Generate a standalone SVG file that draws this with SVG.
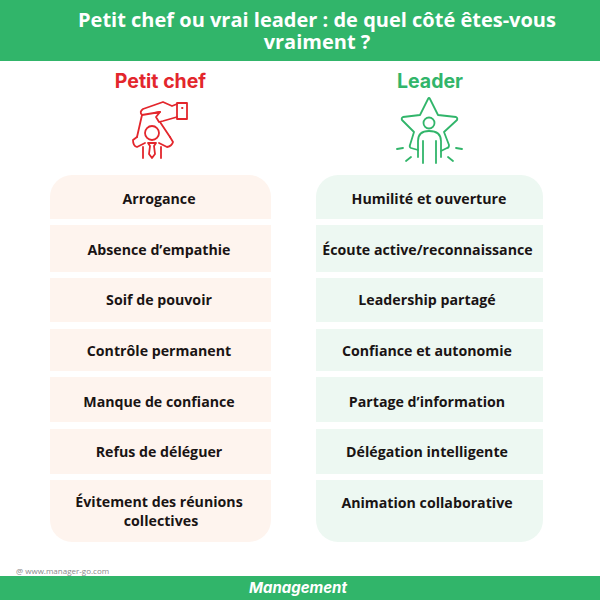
<svg xmlns="http://www.w3.org/2000/svg" width="600" height="600" viewBox="0 0 600 600">
<style>
.band{fill:#31b56a}
.r{fill:#fef4ee}
.g{fill:#edf8f2}
.t{font:700 14.200px "Open Sans",sans-serif;fill:#1a1414;text-anchor:middle}
.h{font:700 19.500px Inter,sans-serif;text-anchor:middle}
.title{font:700 20px "Open Sans",sans-serif;fill:#fff;text-anchor:middle}
.ir{fill:none;stroke:#e3262c;stroke-width:1.800;stroke-linejoin:round;stroke-linecap:round}
.ig{fill:none;stroke:#31b56a;stroke-width:1.800;stroke-linejoin:round;stroke-linecap:round}
</style>
<rect width="600" height="600" fill="#fff"/>
<g id="header">
<rect class="band" width="600" height="61"/>
<text class="title"><tspan x="317" y="27">Petit chef ou vrai leader : de quel côté êtes-vous</tspan><tspan x="317" y="49">vraiment ?</tspan></text>
</g>
<g id="col-petit-chef">
<text class="h" x="160.500" y="88" fill="#e3262c">Petit chef</text>
<g class="ir">
<path d="M177 104L172 106L163 102L143 109Q139 112 142 115L160 112L156 117L159 122L163 121L177 117"/>
<path d="M155 113L160 112M177 103H187V119H177Z"/>
<path d="M182 108H182.500"/>
<path d="M142 115L137 137M160 122L170 137"/>
<circle cx="152" cy="133" r="7"/>
<path d="M137 137L133 140Q133 146 137 147L145 143M170 137L173 142Q172 146 167 147L159 143M143 147V158M161 147V158M148 143H156L154 146L155 154L152 158L149 154L150 146Z"/>
</g>
</g>
<g id="col-leader">
<text class="h" x="430" y="88" fill="#31b56a">Leader</text>
<g class="ig">
<path d="M418 150L411 148Q409 147 410 145L414 132L402 120Q401 118 403 117L420 115L428 99Q429 97 430 99L438 115L456 117Q458 118 457 120L444 132L449 145Q449 148 447 148L441 151"/>
<circle cx="429" cy="123" r="5.500"/>
<path d="M418 157V141Q418 131 429 131Q441 131 441 141V157M423 141V163M436 141V163"/>
<path d="M397 149L403 148M406 161L411 157M462 149L456 148M453 161L448 157"/>
</g>
</g>
<g id="left-rows">
<path class="r" d="M50 219V197A22 22 0 0 1 72 175H249A22 22 0 0 1 271 197V219Z"/>
<rect class="r" x="50" y="225" width="221" height="47"/>
<rect class="r" x="50" y="278" width="221" height="44"/>
<rect class="r" x="50" y="329" width="221" height="42"/>
<rect class="r" x="50" y="377" width="221" height="45"/>
<rect class="r" x="50" y="429" width="221" height="45"/>
<path class="r" d="M50 480H271V520A22 22 0 0 1 249 542H72A22 22 0 0 1 50 520Z"/>
<text class="t" x="159" y="204">Arrogance</text>
<text class="t" x="159" y="255">Absence d’empathie</text>
<text class="t" x="159" y="305">Soif de pouvoir</text>
<text class="t" x="159" y="356">Contrôle permanent</text>
<text class="t" x="159" y="407">Manque de confiance</text>
<text class="t" x="159" y="457">Refus de déléguer</text>
<text class="t"><tspan x="159" y="507">Évitement des réunions</tspan><tspan x="161" y="526">collectives</tspan></text>
</g>
<g id="right-rows">
<path class="g" d="M316 219V197A22 22 0 0 1 338 175H521A22 22 0 0 1 543 197V219Z"/>
<rect class="g" x="316" y="225" width="227" height="47"/>
<rect class="g" x="316" y="278" width="227" height="44"/>
<rect class="g" x="316" y="329" width="227" height="42"/>
<rect class="g" x="316" y="377" width="227" height="45"/>
<rect class="g" x="316" y="429" width="227" height="45"/>
<path class="g" d="M316 480H543V520A22 22 0 0 1 521 542H338A22 22 0 0 1 316 520Z"/>
<text class="t" x="429" y="204">Humilité et ouverture</text>
<text class="t" x="427.500" y="255">Écoute active/reconnaissance</text>
<text class="t" x="427" y="305">Leadership partagé</text>
<text class="t" x="427" y="356">Confiance et autonomie</text>
<text class="t" x="427" y="407">Partage d’information</text>
<text class="t" x="427" y="457">Délégation intelligente</text>
<text class="t" x="427" y="508">Animation collaborative</text>
</g>
<g id="footer">
<text x="16" y="574" font-family="Open Sans, sans-serif" font-size="8" fill="#8a8a8a">@ www.manager-go.com</text>
<rect class="band" y="576" width="600" height="24"/>
<text x="298" y="593" font-family="Inter, sans-serif" font-size="15" font-weight="700" font-style="italic" fill="#fff" text-anchor="middle">Management</text>
</g>
</svg>
